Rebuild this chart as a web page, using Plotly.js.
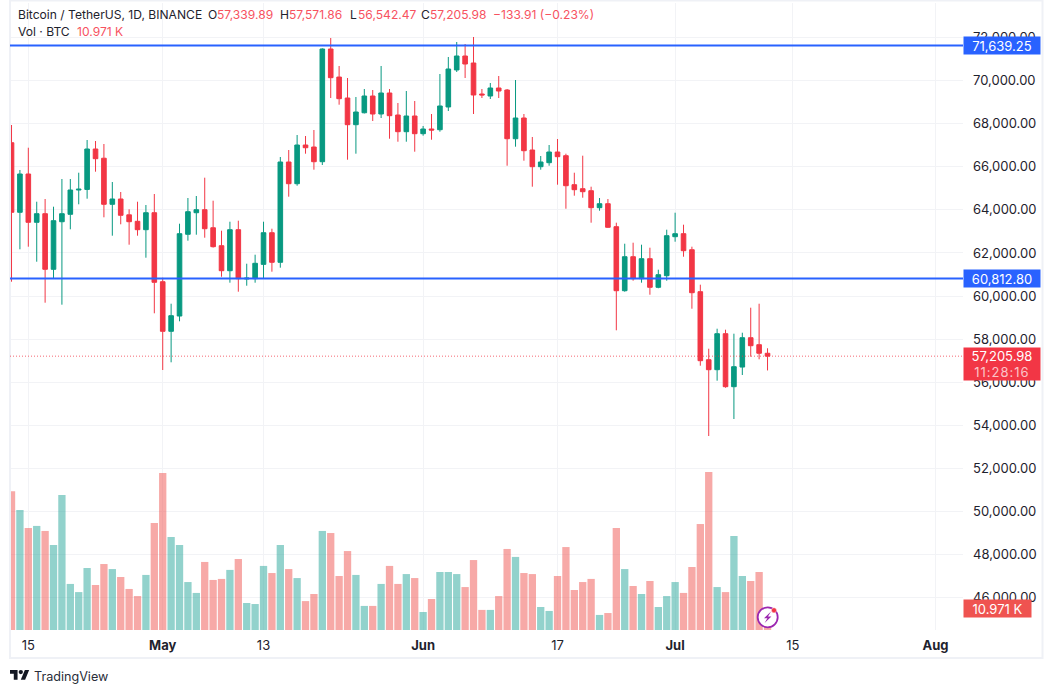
<!DOCTYPE html>
<html><head><meta charset="utf-8">
<script src="https://cdn.plot.ly/plotly-3.0.1.min.js"></script>
<style>html,body{margin:0;padding:0;background:#fff}#chart{width:1053px;height:693px}</style>
</head><body><div id="chart"></div>
<script>
const dates = [
"2024-04-13","2024-04-14","2024-04-15","2024-04-16","2024-04-17","2024-04-18","2024-04-19","2024-04-20","2024-04-21","2024-04-22",
"2024-04-23","2024-04-24","2024-04-25","2024-04-26","2024-04-27","2024-04-28","2024-04-29","2024-04-30","2024-05-01","2024-05-02",
"2024-05-03","2024-05-04","2024-05-05","2024-05-06","2024-05-07","2024-05-08","2024-05-09","2024-05-10","2024-05-11","2024-05-12",
"2024-05-13","2024-05-14","2024-05-15","2024-05-16","2024-05-17","2024-05-18","2024-05-19","2024-05-20","2024-05-21","2024-05-22",
"2024-05-23","2024-05-24","2024-05-25","2024-05-26","2024-05-27","2024-05-28","2024-05-29","2024-05-30","2024-05-31","2024-06-01",
"2024-06-02","2024-06-03","2024-06-04","2024-06-05","2024-06-06","2024-06-07","2024-06-08","2024-06-09","2024-06-10","2024-06-11",
"2024-06-12","2024-06-13","2024-06-14","2024-06-15","2024-06-16","2024-06-17","2024-06-18","2024-06-19","2024-06-20","2024-06-21",
"2024-06-22","2024-06-23","2024-06-24","2024-06-25","2024-06-26","2024-06-27","2024-06-28","2024-06-29","2024-06-30","2024-07-01",
"2024-07-02","2024-07-03","2024-07-04","2024-07-05","2024-07-06","2024-07-07","2024-07-08","2024-07-09","2024-07-10","2024-07-11","2024-07-12"];
const opens = [
67120,63888,65667,63423,63823,61240,63450,63795,64924,64950,
66828,66400,64259,64506,63770,63470,63080,63869,60664,58360,
59070,62866,63869,64009,63170,62336,61175,63080,60790,60804,
61470,62940,61565,66224,65216,67014,66920,66238,71473,70170,
69197,67957,68512,69290,68454,69429,68407,67632,68361,67539,
67757,67725,68780,70500,71148,70823,69383,69290,69662,69569,
67306,68268,66782,66006,66192,66689,66517,65170,64984,64891,
64102,64287,63219,60246,61825,60804,61733,60404,60943,62755,
62894,62150,60200,57040,56577,58249,55787,56700,58063,57738,57339.89];
const highs = [
67943,65853,66888,64380,64506,64148,65435,65435,65727,67246,
67200,67060,65295,64831,64027,64380,64227,64738,60850,59642,
63358,64552,64645,65495,64427,63033,63451,63498,61500,61918,
63451,63126,66457,66782,67478,67432,67711,71506,71984,70684,
70126,69244,69615,69569,70684,69615,68965,69522,69058,67897,
68454,70312,71102,71798,71705,72031,69615,69894,70219,69615,
70033,68454,67386,66503,67014,67293,66610,65727,66517,65077,
64552,64506,63405,62429,62476,62383,62244,61222,63080,63869,
63312,62290,60525,57552,58481,58435,58249,58295,59457,59642,57571.86];
const lows = [
60664,62169,62290,61593,59689,60804,59596,63098,64259,64520,
65774,63656,62801,63330,62383,62801,61779,59196,56563,56920,
58825,62569,62847,62708,62250,60896,60618,60200,60478,60618,
60804,61129,61315,64613,65123,66610,65867,66085,69197,68886,
66331,66610,68480,68129,68268,67306,67167,67167,66703,67446,
67260,67632,68593,70405,70126,68454,69197,69151,69197,66052,
66935,66285,65077,65867,66052,65170,64055,64659,64566,63405,
63962,63170,58407,60200,60711,60618,60060,60360,60711,62522,
61825,59410,56762,53497,56066,55740,54287,56330,57180,57060,56542.47];
const closes = [
63888,65667,63423,63823,61240,63498,63823,64924,64960,66828,
66378,64259,64506,63749,63451,63080,63869,60636,58360,59085,
62894,63916,64009,63126,62290,61175,63080,60804,60830,61519,
62940,61565,66224,65216,67014,66888,66238,71473,70140,69165,
67957,68547,69290,68454,69429,68375,67632,68361,67539,67757,
67710,68826,70544,71148,70776,69336,69340,69662,69522,67306,
68268,66749,66006,66224,66689,66471,65123,64938,64845,64102,
64287,63191,60246,61825,60804,61733,60404,60989,62801,62894,
62104,60153,56995,56577,58249,55787,56716,58063,57691,57340,57205.98];
const volumesK = [
80.1,69.3,58.9,60.1,57.2,49.1,78.0,26.6,21.9,35.8,
26.0,38.1,35.2,30.6,23.7,19.6,31.8,61.8,90.7,53.7,
49.1,27.7,21.4,39.3,28.9,29.5,34.7,41.0,15.6,15.0,
37.0,32.9,49.1,35.2,30.0,16.7,20.8,57.2,56.0,31.2,
45.6,31.8,13.9,13.9,26.6,37.0,26.6,32.3,30.0,10.4,
17.9,33.5,33.5,32.3,24.8,40.4,11.6,11.6,19.6,46.8,
42.2,32.9,32.3,13.3,11.0,31.2,47.9,23.1,27.7,29.5,
8.7,9.8,58.9,35.2,25.4,20.8,28.3,13.3,19.6,27.7,
21.4,36.4,61.2,91.2,24.8,21.9,54.3,31.2,28.3,33.5,10.971];
const priceTicks = [46000,48000,50000,52000,54000,56000,58000,60000,62000,64000,66000,68000,70000,72000];
const timeTicks = ["2024-04-15","2024-05-01","2024-05-13","2024-06-01","2024-06-17","2024-07-01","2024-07-15","2024-08-01"];
const timeLabels = ["15","<b>May</b>","13","<b>Jun</b>","17","<b>Jul</b>","15","<b>Aug</b>"];
const levels = [71639.25, 60812.80];
const lastClose = 57205.98;

const FONT = "Inter, 'Liberation Sans', sans-serif";
const UP = "#089981", DOWN = "#f23645", BLUE = "#2962ff", GRID = "#f2f3f6", INK = "#1e222d", RED = "#f7525f";
const L = 10, R = 963, T = 3, B = 630;
const fx = p => (p - L) / (R - L);
const fy = p => (B - p) / (B - T);

const candles = {
  type: "candlestick", x: dates, open: opens, high: highs, low: lows, close: closes,
  yaxis: "y", xaxis: "x", whiskerwidth: 0,
  increasing: {line: {color: UP, width: 1}, fillcolor: UP},
  decreasing: {line: {color: DOWN, width: 1}, fillcolor: DOWN},
  hoverinfo: "skip"
};
const volume = {
  type: "bar", x: dates, y: volumesK, yaxis: "y2", xaxis: "x",
  marker: {color: closes.map((c, i) => c >= opens[i] ? "rgba(38,166,154,0.5)" : "rgba(239,83,80,0.5)"), line: {width: 0}},
  hoverinfo: "skip"
};

const HEAD = 12.1;
function label(text, px, py, color, size) {
  return {text, x: fx(px - 2), y: fy(py), xref: "paper", yref: "paper", xanchor: "left", yanchor: "middle",
    showarrow: false, align: "left", font: {family: FONT, size: size || HEAD, color: color || INK}};
}
function tag(text, yval, bg) {
  return {text, x: fx(963), y: yval, xref: "paper", yref: "y", xanchor: "left", yanchor: "middle", showarrow: false,
    width: 76, height: 17, bgcolor: bg, borderpad: 0, align: "center", font: {family: FONT, size: 13, color: "#fff"}};
}
const annotations = [
  label("Bitcoin / TetherUS, 1D, BINANCE", 18, 15),
  label("O", 208, 15), label("57,339.89", 217, 15, RED),
  label("H", 280, 15), label("57,571.86", 289, 15, RED),
  label("L", 350, 15), label("56,542.47", 358, 15, RED),
  label("C", 421, 15), label("57,205.98", 430, 15, RED),
  label("−133.91 (−0.23%)", 493, 15, RED),
  label("Vol · BTC", 18, 32), label("10.971 K", 77, 32, RED),
  label("TradingView", 34, 676, "#2a2e39", 12.6),
  tag("71,639.25", levels[0], BLUE),
  tag("60,812.80", levels[1], BLUE),
  {text: "57,205.98<br><span style='color:#fbc4c8;letter-spacing:1px'>11:28:16</span>", x: fx(963), y: fy(363.5), xref: "paper", yref: "paper",
   xanchor: "left", yanchor: "middle", showarrow: false, width: 76, height: 32, bgcolor: DOWN, borderpad: 0, align: "center",
   font: {family: FONT, size: 13, color: "#fff"}},
  {text: "10.971 K", x: fx(963), y: fy(608.5), xref: "paper", yref: "paper", xanchor: "left", yanchor: "middle", showarrow: false,
   width: 67, height: 17, bgcolor: "#ef5350", borderpad: 0, align: "center", font: {family: FONT, size: 13, color: "#fff"}}
];

function poly(points) {
  return "M" + points.map(p => fx(p[0]).toFixed(5) + "," + fy(p[1]).toFixed(5)).join(" L") + " Z";
}
function circle(cx, cy, r, fill, line, w) {
  return {type: "circle", xref: "paper", yref: "paper", x0: fx(cx - r), x1: fx(cx + r), y0: fy(cy + r), y1: fy(cy - r),
    fillcolor: fill, line: {color: line, width: w}};
}
const lx = 10, ly = 667.8, ls = 0.54;
const logo = pts => pts.map(p => [lx + p[0] * ls, ly + p[1] * ls]);
const shapes = [
  {type: "rect", xref: "paper", yref: "paper", x0: fx(10), x1: fx(1042.5), y0: fy(658), y1: fy(0.5), line: {color: "#eff1f6", width: 2}, fillcolor: "rgba(0,0,0,0)"},
  {type: "line", xref: "paper", x0: 0, x1: 1, yref: "y", y0: lastClose, y1: lastClose, opacity: 0.75, line: {color: DOWN, width: 1, dash: "1px,2px"}},
  {type: "line", xref: "paper", x0: 0, x1: 1, yref: "y", y0: levels[0], y1: levels[0], line: {color: BLUE, width: 2}},
  {type: "line", xref: "paper", x0: 0, x1: 1, yref: "y", y0: levels[1], y1: levels[1], line: {color: BLUE, width: 2}},
  circle(767.7, 617.3, 10, "#ffffff", "#9c27b0", 1.8),
  {type: "path", xref: "paper", yref: "paper", fillcolor: "#9c27b0", line: {width: 0},
   path: poly([[771,611.5],[764,618.2],[767.4,618.2],[764.6,623],[771.4,616.4],[768,616.4]])},
  circle(774, 610.3, 2.6, "#f23645", "#ffffff", 0.5),
  {type: "path", xref: "paper", yref: "paper", fillcolor: "#131722", line: {width: 0},
   path: poly(logo([[0,4],[14,4],[14,22],[7,22],[7,11],[0,11]]))},
  {type: "path", xref: "paper", yref: "paper", fillcolor: "#131722", line: {width: 0},
   path: poly(logo([[27.5,4],[35.5,4],[28,22],[20,22]]))},
  circle(lx + 20 * ls, ly + 8 * ls, 4 * ls, "#131722", "#131722", 0)
];

const layout = {
  width: 1053, height: 693, autosize: false,
  margin: {l: L, r: 1053 - R, t: T, b: 693 - B, pad: 0},
  paper_bgcolor: "#ffffff", plot_bgcolor: "#ffffff",
  showlegend: false, hovermode: false, bargap: 0.13, boxgap: 0.26, boxgroupgap: 0.26,
  font: {family: FONT, size: 13, color: INK},
  xaxis: {type: "date", range: ["2024-04-12 19:40", "2024-08-04 06:30"], rangeslider: {visible: false},
    tickmode: "array", tickvals: timeTicks, ticktext: timeLabels, showgrid: true, gridcolor: GRID, gridwidth: 1,
    zeroline: false, showline: false, ticks: "", ticklabelstandoff: 6, tickfont: {family: FONT, size: 13, color: INK}},
  yaxis: {side: "right", range: [44486, 73610], tickmode: "array", tickvals: priceTicks, tickformat: ",.2f",
    showgrid: true, gridcolor: GRID, gridwidth: 1, zeroline: false, showline: false, ticks: "", ticklabelstandoff: 9,
    tickfont: {family: FONT, size: 13, color: INK}},
  yaxis2: {overlaying: "y", side: "right", visible: false, range: [0, 362.1], showgrid: false, zeroline: false},
  annotations, shapes
};
Plotly.newPlot("chart", [candles, volume], layout, {displayModeBar: false, staticPlot: true});
</script></body></html>
